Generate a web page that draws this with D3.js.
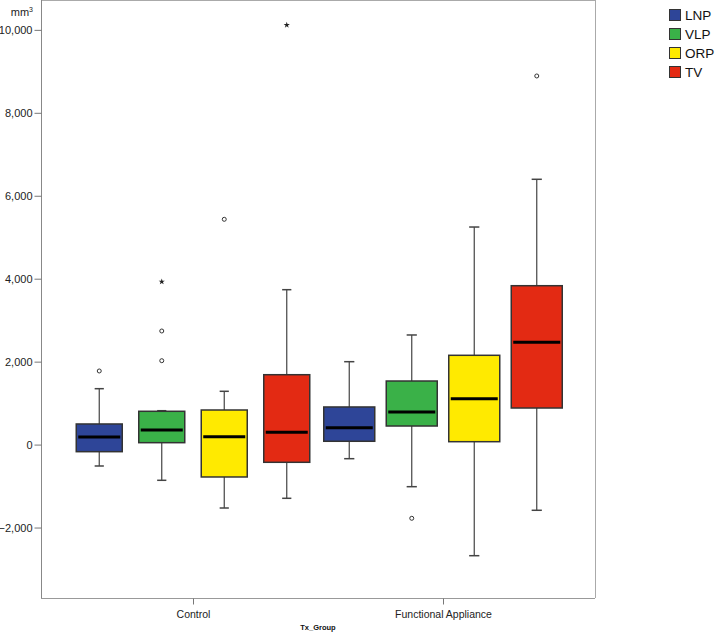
<!DOCTYPE html>
<html>
<head>
<meta charset="utf-8">
<script src="https://cdn.jsdelivr.net/npm/d3@7/dist/d3.min.js"></script>
<style>
  html, body { margin: 0; padding: 0; background: #fff; }
  svg { display: block; font-family: Arial, "Liberation Sans", sans-serif; }
</style>
</head>
<body>
<svg id="chart" width="716" height="632"></svg>
<script>
// ---- data ----
const groups = ["Control", "Functional Appliance"];
const series = ["LNP", "VLP", "ORP", "TV"];
// rows: groups, columns: series (LNP, VLP, ORP, TV)
const whiskerLow  = [[-516, -861, -1529, -1295], [-340, -1015, -2679, -1584]];
const q1          = [[-171,   46,  -781,  -427], [  80,   448,    70,   882]];
const median      = [[ 183,  352,   190,   297], [ 407,   786,  1107,  2467]];
const q3          = [[ 497,  803,   834,  1685], [ 907,  1533,  2153,  3831]];
const whiskerHigh = [[1348,  817,  1285,  3735], [1999,  2643,  5246,  6397]];
const outlierGroup  = ["Control", "Control", "Control", "Control", "Control", "Control", "Functional Appliance", "Functional Appliance"];
const outlierSeries = ["LNP", "VLP", "VLP", "VLP", "ORP", "TV", "VLP", "TV"];
const outlierValue  = [1775, 2739, 2023, 3928, 5432, 10117, -1777, 8888];
const outlierKind   = ["circle", "circle", "circle", "star", "circle", "star", "circle", "circle"];
const yTicks = [-2000, 0, 2000, 4000, 6000, 8000, 10000];
const colors = ["#2e4598", "#3ab148", "#ffea00", "#e32a13"];
const yUnit = "mm";
const xTitle = "Tx_Group";

// ---- layout ----
const svg = d3.select("#chart");
const plotLeft = 41, plotRight = 595, plotTop = 0, plotBottom = 598;
const boxWidths = [46, 51];

const y = d3.scaleLinear().domain([-3699, 10720]).range([plotBottom, plotTop]);
const x0 = d3.scalePoint().domain(groups).range([plotLeft, plotRight]).padding(0.608);
const x1 = d3.scaleBand().domain(series).range([-125, 125]);
const color = d3.scaleOrdinal().domain(series).range(colors);

// frame
svg.append("line").attr("x1", plotLeft).attr("x2", plotRight).attr("y1", plotTop + 0.5).attr("y2", plotTop + 0.5)
  .attr("stroke", "#aaa").attr("stroke-width", 1);
svg.append("line").attr("x1", plotRight + 0.5).attr("x2", plotRight + 0.5).attr("y1", plotTop).attr("y2", plotBottom)
  .attr("stroke", "#aaa").attr("stroke-width", 1);

// y axis
const yAxis = d3.axisLeft(y).tickValues(yTicks).tickFormat(d3.format(",")).tickSizeOuter(0).tickSize(7).tickPadding(2);
const gy = svg.append("g").attr("transform", `translate(${plotLeft + 0.5},0)`).call(yAxis);
gy.select(".domain").attr("stroke", "#888").attr("d", `M0,${plotTop}V${plotBottom}`);
gy.selectAll(".tick line").attr("stroke", "#777");
gy.selectAll(".tick text").attr("font-size", 11).attr("fill", "#222").attr("font-family", "Arial, 'Liberation Sans', sans-serif");

// y unit label
const unit = svg.append("text").attr("x", 33).attr("y", 16).attr("text-anchor", "end")
  .attr("font-size", 11).attr("fill", "#222");
unit.append("tspan").text(yUnit);
unit.append("tspan").attr("font-size", 7).attr("dy", -4).text("3");

// x axis
const xAxis = d3.axisBottom(x0).tickSizeOuter(0).tickSize(6).tickPadding(6);
const gx = svg.append("g").attr("transform", `translate(0,${plotBottom + 0.5})`).call(xAxis);
gx.select(".domain").attr("stroke", "#999").attr("d", `M${plotLeft},0H${plotRight}`);
gx.selectAll(".tick line").attr("stroke", "#777");
gx.selectAll(".tick text").attr("font-size", 10.5).attr("fill", "#222").attr("font-family", "Arial, 'Liberation Sans', sans-serif");

svg.append("text").attr("x", (plotLeft + plotRight) / 2).attr("y", 630).attr("text-anchor", "middle")
  .attr("font-size", 7.5).attr("font-weight", "bold").attr("fill", "#111").text(xTitle);

// boxes
groups.forEach((g, gi) => {
  const bw = boxWidths[gi];
  const cap = bw * 0.2;
  series.forEach((s, si) => {
    const cx = x0(g) + x1(s) + x1.bandwidth() / 2;
    const gg = svg.append("g");
    // whiskers
    gg.append("line").attr("x1", cx).attr("x2", cx).attr("y1", y(whiskerHigh[gi][si])).attr("y2", y(q3[gi][si]))
      .attr("stroke", "#444").attr("stroke-width", 1.2);
    gg.append("line").attr("x1", cx).attr("x2", cx).attr("y1", y(q1[gi][si])).attr("y2", y(whiskerLow[gi][si]))
      .attr("stroke", "#444").attr("stroke-width", 1.2);
    [whiskerHigh[gi][si], whiskerLow[gi][si]].forEach(v => {
      gg.append("line").attr("x1", cx - cap / 2).attr("x2", cx + cap / 2).attr("y1", y(v)).attr("y2", y(v))
        .attr("stroke", "#444").attr("stroke-width", 1.5);
    });
    // box
    gg.append("rect").attr("x", cx - bw / 2).attr("width", bw)
      .attr("y", y(q3[gi][si])).attr("height", y(q1[gi][si]) - y(q3[gi][si]))
      .attr("fill", color(s)).attr("stroke", "#333").attr("stroke-width", 1.5);
    // median
    gg.append("line").attr("x1", cx - bw / 2 + 2).attr("x2", cx + bw / 2 - 2)
      .attr("y1", y(median[gi][si])).attr("y2", y(median[gi][si]))
      .attr("stroke", "#000").attr("stroke-width", 3);
  });
});

// outliers
const star = d3.symbol().type(d3.symbolStar).size(12);
outlierValue.forEach((v, i) => {
  const cx = x0(outlierGroup[i]) + x1(outlierSeries[i]) + x1.bandwidth() / 2;
  if (outlierKind[i] === "circle") {
    svg.append("circle").attr("cx", cx).attr("cy", y(v)).attr("r", 2)
      .attr("fill", "#fff").attr("stroke", "#333").attr("stroke-width", 1);
  } else {
    svg.append("path").attr("d", star).attr("transform", `translate(${cx},${y(v)})`).attr("fill", "#222");
  }
});

// legend
const lg = svg.append("g").attr("transform", "translate(669,9)");
series.forEach((s, i) => {
  const row = lg.append("g").attr("transform", `translate(0,${i * 19})`);
  row.append("rect").attr("x", 0.5).attr("y", 0.5).attr("width", 11).attr("height", 11)
    .attr("fill", color(s)).attr("stroke", "#333").attr("stroke-width", 1);
  row.append("text").attr("x", 16).attr("y", 10.5).attr("font-size", 13.5).attr("fill", "#111").text(s);
});
</script>
</body>
</html>
